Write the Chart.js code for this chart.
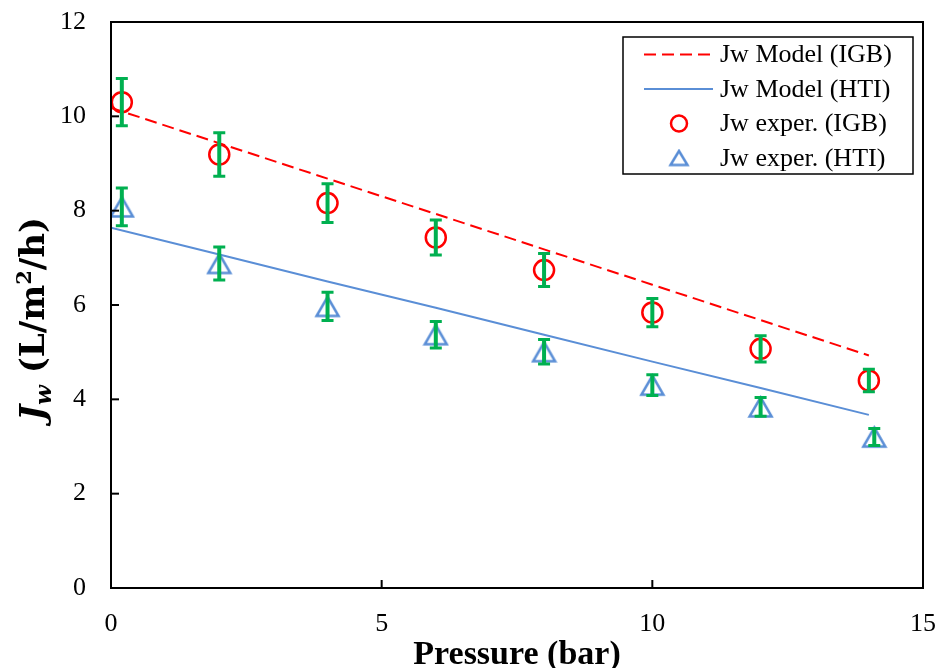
<!DOCTYPE html>
<html>
<head>
<meta charset="utf-8">
<script src="https://cdn.jsdelivr.net/npm/chart.js@4.4.1/dist/chart.umd.min.js"></script>
<style>
  html, body { margin: 0; padding: 0; background: #fff; }
  #wrap { width: 940px; height: 668px; position: relative; }
</style>
</head>
<body>
<div id="wrap"><canvas id="fluxChart"></canvas></div>
<script>
// Water flux vs pressure — model lines + experimental points with error bars

// model lines
const modelPressure = [0, 2, 4, 6, 8, 10, 12, 14];
const igbModel = [10.18, 9.43, 8.68, 7.93, 7.18, 6.43, 5.68, 4.93];
const htiModel = [7.64, 7.07, 6.50, 5.94, 5.37, 4.80, 4.24, 3.67];

// experiments
const igbPressure = [0.2, 2, 4, 6, 8, 10, 12, 14];
const igbExp = [10.3, 9.19, 8.16, 7.43, 6.74, 5.84, 5.07, 4.40];
const igbErr = [0.5, 0.46, 0.41, 0.37, 0.35, 0.30, 0.28, 0.24];

const htiPressure = [0.2, 2, 4, 6, 8, 10, 12, 14.1];
const htiExp = [8.08, 6.88, 5.97, 5.37, 5.01, 4.30, 3.84, 3.20];
const htiErr = [0.40, 0.35, 0.30, 0.28, 0.26, 0.22, 0.20, 0.18];

// axes
const xTicks = [0, 5, 10, 15];
const yTicks = [0, 2, 4, 6, 8, 10, 12];

const legendLabels = ['Jw Model (IGB)', 'Jw Model (HTI)', 'Jw exper. (IGB)', 'Jw exper. (HTI)'];

const RED = '#ff0000';
const BLUE = '#5a8ed6';
const GREEN = '#00b050';
const SERIF = '"Liberation Serif", "Times New Roman", serif';

const toXY = (xs, ys) => xs.map((x, i) => ({ x, y: ys[i] }));

// hollow triangle marker, centred on its bounding box like Excel does
function triangleMarker(w, h, lw) {
  const c = document.createElement('canvas');
  c.width = Math.ceil(w + lw * 2);
  c.height = Math.ceil(h + lw * 2);
  const ctx = c.getContext('2d');
  const cx = c.width / 2, cy = c.height / 2;
  ctx.strokeStyle = BLUE;
  ctx.lineWidth = lw;
  ctx.lineJoin = 'miter';
  ctx.beginPath();
  ctx.moveTo(cx, cy - h / 2);
  ctx.lineTo(cx + w / 2, cy + h / 2);
  ctx.lineTo(cx - w / 2, cy + h / 2);
  ctx.closePath();
  ctx.stroke();
  return c;
}

const triBig = triangleMarker(22, 19, 2.5);
const triSmall = triangleMarker(17, 14, 2.5);

function pairs(scale, values) {
  return values.map(v => scale.getPixelForValue(v));
}

const frameAndTicks = {
  id: 'frameAndTicks',
  afterDraw(chart) {
    const { ctx, chartArea: a, scales } = chart;
    ctx.save();
    ctx.strokeStyle = '#000';
    ctx.lineWidth = 2;
    ctx.strokeRect(a.left, a.top, a.right - a.left, a.bottom - a.top);
    // inside tick marks
    pairs(scales.x, xTicks).forEach(px => {
      ctx.beginPath(); ctx.moveTo(px, a.bottom); ctx.lineTo(px, a.bottom - 8); ctx.stroke();
    });
    pairs(scales.y, yTicks).forEach(py => {
      ctx.beginPath(); ctx.moveTo(a.left, py); ctx.lineTo(a.left + 8, py); ctx.stroke();
    });
    ctx.restore();
  }
};

const errorBars = {
  id: 'errorBars',
  afterDatasetsDraw(chart) {
    const { ctx, scales } = chart;
    const sets = [[igbPressure, igbExp, igbErr], [htiPressure, htiExp, htiErr]];
    ctx.save();
    ctx.strokeStyle = GREEN;
    sets.forEach(([xs, ys, es]) => {
      xs.forEach((x, i) => {
        const px = scales.x.getPixelForValue(x);
        const top = scales.y.getPixelForValue(ys[i] + es[i]);
        const bot = scales.y.getPixelForValue(ys[i] - es[i]);
        ctx.lineWidth = 4;
        ctx.beginPath(); ctx.moveTo(px, top); ctx.lineTo(px, bot); ctx.stroke();
        ctx.lineWidth = 3;
        ctx.beginPath();
        ctx.moveTo(px - 6, top); ctx.lineTo(px + 6, top);
        ctx.moveTo(px - 6, bot); ctx.lineTo(px + 6, bot);
        ctx.stroke();
      });
    });
    ctx.restore();
  }
};

const boxLegend = {
  id: 'boxLegend',
  afterDraw(chart) {
    const { ctx } = chart;
    const box = { l: 623, t: 37, r: 913, b: 174 };
    const rows = [54.5, 89, 123.5, 158];
    ctx.save();
    ctx.fillStyle = '#fff';
    ctx.fillRect(box.l, box.t, box.r - box.l, box.b - box.t);
    ctx.strokeStyle = '#000';
    ctx.lineWidth = 1.5;
    ctx.strokeRect(box.l, box.t, box.r - box.l, box.b - box.t);

    // samples
    ctx.lineWidth = 2;
    ctx.strokeStyle = RED;
    ctx.setLineDash([12, 6]);
    ctx.beginPath(); ctx.moveTo(644, rows[0]); ctx.lineTo(713, rows[0]); ctx.stroke();
    ctx.setLineDash([]);
    ctx.strokeStyle = BLUE;
    ctx.beginPath(); ctx.moveTo(644, rows[1]); ctx.lineTo(713, rows[1]); ctx.stroke();
    ctx.strokeStyle = RED;
    ctx.lineWidth = 2.5;
    ctx.beginPath(); ctx.arc(679, rows[2], 8, 0, Math.PI * 2); ctx.stroke();
    ctx.drawImage(triSmall, 679 - triSmall.width / 2, rows[3] - triSmall.height / 2);

    ctx.fillStyle = '#000';
    ctx.font = '26px ' + SERIF;
    ctx.textBaseline = 'middle';
    legendLabels.forEach((t, i) => ctx.fillText(t, 720, rows[i] + 1));
    ctx.restore();
  }
};

const axisTitles = {
  id: 'axisTitles',
  afterDraw(chart) {
    const { ctx, chartArea: a } = chart;
    ctx.save();
    ctx.fillStyle = '#000';
    // x title
    ctx.font = 'bold 34px ' + SERIF;
    ctx.textAlign = 'center';
    ctx.textBaseline = 'alphabetic';
    ctx.fillText('Pressure (bar)', (a.left + a.right) / 2, 664);

    // y title, rich text: J_w (L/m²/h)
    const yf = '"DejaVu Serif", serif';
    const parts = [
      { t: 'J', f: 'italic bold 34px ' + yf, dy: 0 },
      { t: 'w', f: 'italic bold 23px ' + yf, dy: 7 },
      { t: ' (L/m', f: 'bold 34px ' + yf, dy: 0 },
      { t: '2', f: 'bold 21px ' + yf, dy: -13 },
      { t: '/h)', f: 'bold 34px ' + yf, dy: 0 }
    ];
    let total = 0;
    parts.forEach(p => { ctx.font = p.f; p.w = ctx.measureText(p.t).width; total += p.w; });
    ctx.translate(44, 319);
    ctx.rotate(-Math.PI / 2);
    ctx.textAlign = 'left';
    let x = -total / 2;
    parts.forEach(p => {
      ctx.font = p.f;
      ctx.fillText(p.t, x, p.dy);
      x += p.w;
    });
    ctx.restore();
  }
};

new Chart(document.getElementById('fluxChart'), {
  type: 'scatter',
  data: {
    datasets: [
      {
        label: legendLabels[2],
        data: toXY(igbPressure, igbExp),
        showLine: false,
        pointStyle: 'circle',
        pointRadius: 10,
        pointBorderWidth: 2.5,
        pointBorderColor: RED,
        pointBackgroundColor: 'rgba(0,0,0,0)',
        order: 1
      },
      {
        label: legendLabels[3],
        data: toXY(htiPressure, htiExp),
        showLine: false,
        pointStyle: triBig,
        pointRadius: 11,
        order: 2
      },
      {
        label: legendLabels[0],
        data: toXY(modelPressure, igbModel),
        showLine: true,
        borderColor: RED,
        borderWidth: 2,
        borderDash: [12, 6],
        pointRadius: 0,
        order: 3
      },
      {
        label: legendLabels[1],
        data: toXY(modelPressure, htiModel),
        showLine: true,
        borderColor: BLUE,
        borderWidth: 2,
        pointRadius: 0,
        order: 4
      }
    ]
  },
  options: {
    responsive: true,
    maintainAspectRatio: false,
    animation: false,
    layout: { padding: { top: 22, right: 17, left: 0, bottom: 0 } },
    plugins: {
      legend: { display: false },
      tooltip: { enabled: false }
    },
    scales: {
      x: {
        type: 'linear',
        min: 0,
        max: 15,
        afterFit: s => { s.height = 80; s.paddingLeft = 0; s.paddingRight = 0; },
        afterBuildTicks: s => { s.ticks = xTicks.map(v => ({ value: v })); },
        grid: { display: false, drawTicks: false },
        border: { display: false },
        ticks: { color: '#000', padding: 21, maxRotation: 0, font: { family: SERIF, size: 26 } }
      },
      y: {
        type: 'linear',
        min: 0,
        max: 12,
        afterFit: s => { s.width = 111; s.paddingTop = 0; s.paddingBottom = 0; },
        afterBuildTicks: s => { s.ticks = yTicks.map(v => ({ value: v })); },
        grid: { display: false, drawTicks: false },
        border: { display: false },
        ticks: { color: '#000', padding: 25, font: { family: SERIF, size: 26 } }
      }
    }
  },
  plugins: [frameAndTicks, errorBars, boxLegend, axisTitles]
});
</script>
</body>
</html>
